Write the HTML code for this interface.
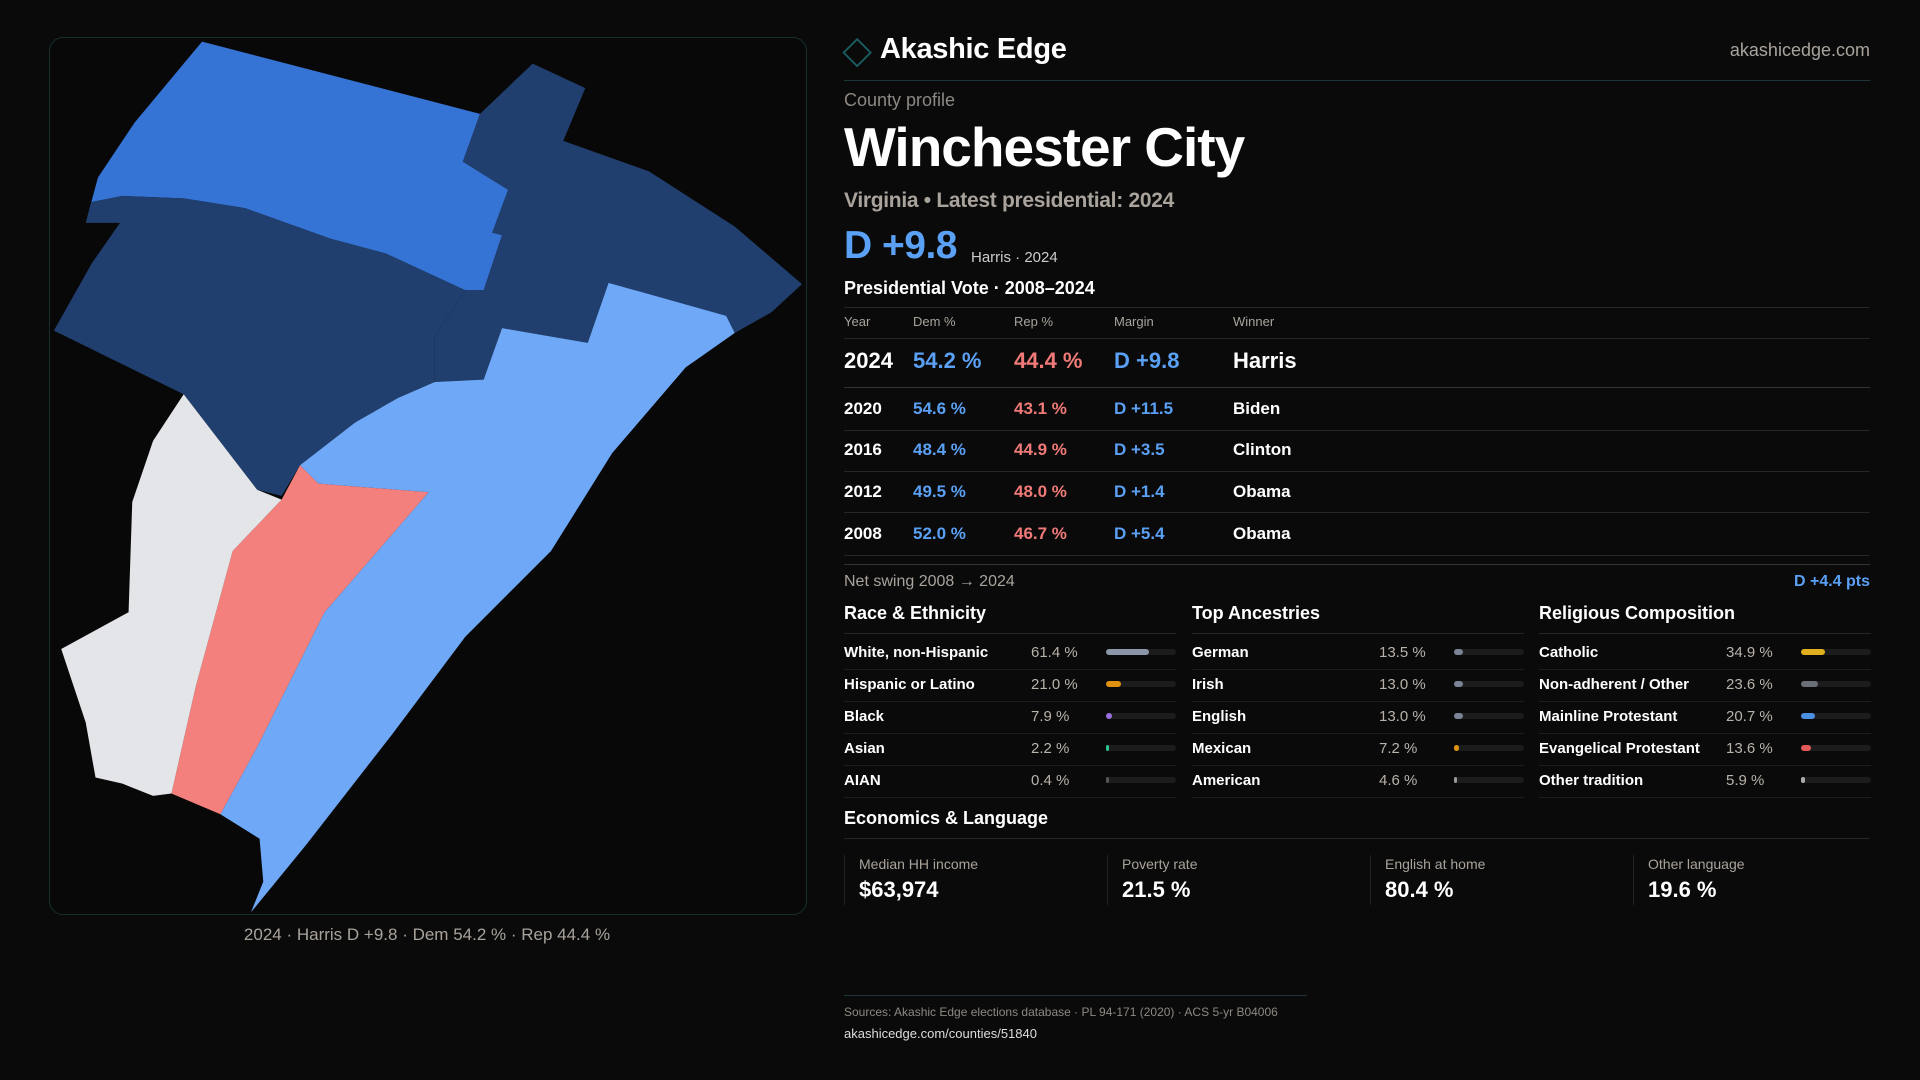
<!DOCTYPE html>
<html><head><meta charset="utf-8"><style>
*{margin:0;padding:0;box-sizing:border-box}
body{width:1920px;height:1080px;background:#0a0a0a;font-family:"Liberation Sans",sans-serif;color:#fff;position:relative;overflow:hidden}
.a{position:absolute;white-space:nowrap;line-height:1}
.g{color:#a9a39c}
.b{color:#5aa0f5}.r{color:#f07a78}
.hl{position:absolute;height:1px;background:#262626}
.bar{position:absolute;height:6px;border-radius:3px;background:#1c1c1c;width:70px}
.bar i{position:absolute;left:0;top:0;height:6px;border-radius:3px}
</style></head><body>
<div style="position:absolute;left:49px;top:37px;width:758px;height:878px;border:1px solid #16302f;border-radius:14px;background:#080808"></div>
<svg style="position:absolute;left:0;top:0" width="1920" height="1080" viewBox="0 0 1568 882">
<polygon fill="#3574d4" points="165,34 392,93 378,132 415,155 402,190 410,192 395,237 380,237 315,207 270,195 200,170 150,162 100,160 75,165 70,182 80,145 110,100"/>
<polygon fill="#203f6e" points="44,270 75,215 98,182 70,182 75,165 100,160 150,162 200,170 270,195 315,207 380,237 355,275 355,312 325,325 290,345 245,380 230,405 210,400 150,322"/>
<polygon fill="#203f6e" points="392,93 435,52 478,72 460,115 530,140 600,185 655,232 630,255 600,272 593,260 497,231 480,280 410,268 395,310 355,312 355,275 380,237 395,237 410,192 402,190 415,155 378,132"/>
<polygon fill="#6ea8f7" points="245,380 290,345 325,325 355,312 395,310 410,268 480,280 497,231 593,258 600,272 560,300 500,370 450,450 380,520 320,600 250,690 205,745 215,720 212,685 180,665 210,610 265,500 350,402 260,395"/>
<polygon fill="#f4807e" points="245,380 260,395 350,402 265,500 210,610 180,665 140,648 160,560 190,450 230,408"/>
<polygon fill="#e4e5e8" points="150,322 210,400 230,408 190,450 160,560 140,648 125,650 100,640 78,635 70,590 50,530 105,500 108,410 125,360"/>
<polygon fill="none" stroke="#1b5e63" stroke-width="1.5" points="700,32 711,43 700,54 689,43"/>
</svg>
<div class="a g" style="left:427px;top:926px;font-size:17px;transform:translateX(-50%)">2024 · Harris D +9.8 · Dem 54.2 % · Rep 44.4 %</div>

<div class="a" style="left:880px;top:35px;font-size:29px;font-weight:bold;letter-spacing:-0.3px">Akashic Edge</div>
<div class="a g" style="right:50px;top:41px;font-size:18px">akashicedge.com</div>
<div class="hl" style="left:844px;width:1026px;top:80px;background:#1d3637"></div>
<div class="a g" style="left:844px;top:91px;font-size:18px;color:#8d8882">County profile</div>
<div class="a" style="left:844px;top:120px;font-size:55px;font-weight:bold;letter-spacing:-1px">Winchester City</div>
<div class="a g" style="left:844px;top:190px;font-size:21px;font-weight:bold;letter-spacing:-0.3px">Virginia • Latest presidential: 2024</div>
<div class="a b" style="left:844px;top:226px;font-size:39px;font-weight:bold;letter-spacing:-0.5px">D +9.8</div>
<div class="a" style="left:971px;top:250px;font-size:15px;color:#ccc">Harris · 2024</div>
<div class="a" style="left:844px;top:279px;font-size:18px;font-weight:bold">Presidential Vote · 2008–2024</div>
<div class="hl" style="left:844px;width:1026px;top:307px"></div>
<div class="a g" style="left:844px;top:315px;font-size:13px">Year</div>
<div class="a g" style="left:913px;top:315px;font-size:13px">Dem %</div>
<div class="a g" style="left:1014px;top:315px;font-size:13px">Rep %</div>
<div class="a g" style="left:1114px;top:315px;font-size:13px">Margin</div>
<div class="a g" style="left:1233px;top:315px;font-size:13px">Winner</div>
<div class="hl" style="left:844px;width:1026px;top:338px"></div>
<div class="a" style="left:844px;top:350px;font-size:22px;font-weight:bold">2024</div>
<div class="a b" style="left:913px;top:350px;font-size:22px;font-weight:bold">54.2 %</div>
<div class="a r" style="left:1014px;top:350px;font-size:22px;font-weight:bold">44.4 %</div>
<div class="a b" style="left:1114px;top:350px;font-size:22px;font-weight:bold">D +9.8</div>
<div class="a" style="left:1233px;top:350px;font-size:22px;font-weight:bold">Harris</div>
<div class="hl" style="left:844px;width:1026px;top:387px;background:#333"></div>

<div class="a" style="left:844px;top:400px;font-size:17px;font-weight:bold">2020</div><div class="a b" style="left:913px;top:400px;font-size:17px;font-weight:bold">54.6 %</div><div class="a r" style="left:1014px;top:400px;font-size:17px;font-weight:bold">43.1 %</div><div class="a b" style="left:1114px;top:400px;font-size:17px;font-weight:bold">D +11.5</div><div class="a" style="left:1233px;top:400px;font-size:17px;font-weight:bold">Biden</div>
<div class="hl" style="left:844px;width:1026px;top:430px"></div>
<div class="a" style="left:844px;top:441px;font-size:17px;font-weight:bold">2016</div><div class="a b" style="left:913px;top:441px;font-size:17px;font-weight:bold">48.4 %</div><div class="a r" style="left:1014px;top:441px;font-size:17px;font-weight:bold">44.9 %</div><div class="a b" style="left:1114px;top:441px;font-size:17px;font-weight:bold">D +3.5</div><div class="a" style="left:1233px;top:441px;font-size:17px;font-weight:bold">Clinton</div>
<div class="hl" style="left:844px;width:1026px;top:471px"></div>
<div class="a" style="left:844px;top:483px;font-size:17px;font-weight:bold">2012</div><div class="a b" style="left:913px;top:483px;font-size:17px;font-weight:bold">49.5 %</div><div class="a r" style="left:1014px;top:483px;font-size:17px;font-weight:bold">48.0 %</div><div class="a b" style="left:1114px;top:483px;font-size:17px;font-weight:bold">D +1.4</div><div class="a" style="left:1233px;top:483px;font-size:17px;font-weight:bold">Obama</div>
<div class="hl" style="left:844px;width:1026px;top:512px"></div>
<div class="a" style="left:844px;top:525px;font-size:17px;font-weight:bold">2008</div><div class="a b" style="left:913px;top:525px;font-size:17px;font-weight:bold">52.0 %</div><div class="a r" style="left:1014px;top:525px;font-size:17px;font-weight:bold">46.7 %</div><div class="a b" style="left:1114px;top:525px;font-size:17px;font-weight:bold">D +5.4</div><div class="a" style="left:1233px;top:525px;font-size:17px;font-weight:bold">Obama</div>
<div class="hl" style="left:844px;width:1026px;top:555px"></div>
<div class="hl" style="left:844px;width:1026px;top:564px;background:#333"></div>
<div class="a g" style="left:844px;top:574px;font-size:16px">Net swing 2008 → 2024</div>
<div class="a b" style="right:50px;top:574px;font-size:16px;font-weight:bold">D +4.4 pts</div>

<div id="cols"></div>
<script>
var cols=[
 {x:844,t:"Race &amp; Ethnicity",rows:[["White, non-Hispanic","61.4 %",61.4,"#8b96a8"],["Hispanic or Latino","21.0 %",21,"#e0920f"],["Black","7.9 %",7.9,"#9a6ee0"],["Asian","2.2 %",2.2,"#2fbf8a"],["AIAN","0.4 %",0.4,"#555"]]},
 {x:1192,t:"Top Ancestries",rows:[["German","13.5 %",13.5,"#7a8494"],["Irish","13.0 %",13,"#7a8494"],["English","13.0 %",13,"#7a8494"],["Mexican","7.2 %",7.2,"#e0920f"],["American","4.6 %",4.6,"#999"]]},
 {x:1539,t:"Religious Composition",rows:[["Catholic","34.9 %",34.9,"#e0b020"],["Non-adherent / Other","23.6 %",23.6,"#6a6f78"],["Mainline Protestant","20.7 %",20.7,"#4a8fe0"],["Evangelical Protestant","13.6 %",13.6,"#e05a5a"],["Other tradition","5.9 %",5.9,"#aaa"]]}];
var h="";
cols.forEach(function(c){
 h+='<div class="a" style="left:'+c.x+'px;top:604px;font-size:18px;font-weight:bold">'+c.t+'</div>';
 h+='<div class="hl" style="left:'+c.x+'px;width:332px;top:633px"></div>';
 c.rows.forEach(function(r,i){var y=645+i*32;
  h+='<div class="a" style="left:'+c.x+'px;top:'+y+'px;font-size:15px;font-weight:bold">'+r[0]+'</div>';
  h+='<div class="a" style="left:'+(c.x+187)+'px;top:'+y+'px;font-size:15px;color:#b8b2aa">'+r[1]+'</div>';
  var w=Math.max(3,r[2]/100*70);
  h+='<div class="bar" style="left:'+(c.x+262)+'px;top:'+(y+4)+'px"><i style="width:'+w+'px;background:'+r[3]+'"></i></div>';
  h+='<div class="hl" style="left:'+c.x+'px;width:332px;top:'+(y+24)+'px;background:#1e1e1e"></div>';
 });
});
document.getElementById('cols').innerHTML=h;
</script>
<div class="a" style="left:844px;top:809px;font-size:18px;font-weight:bold">Economics &amp; Language</div>
<div class="hl" style="left:844px;width:1026px;top:838px"></div>
<div style="position:absolute;left:844px;top:855px;width:1px;height:50px;background:#222"></div>
<div style="position:absolute;left:1107px;top:855px;width:1px;height:50px;background:#222"></div>
<div style="position:absolute;left:1370px;top:855px;width:1px;height:50px;background:#222"></div>
<div style="position:absolute;left:1633px;top:855px;width:1px;height:50px;background:#222"></div>
<div class="a g" style="left:859px;top:857px;font-size:14px">Median HH income</div><div class="a" style="left:859px;top:879px;font-size:22px;font-weight:bold">$63,974</div>
<div class="a g" style="left:1122px;top:857px;font-size:14px">Poverty rate</div><div class="a" style="left:1122px;top:879px;font-size:22px;font-weight:bold">21.5 %</div>
<div class="a g" style="left:1385px;top:857px;font-size:14px">English at home</div><div class="a" style="left:1385px;top:879px;font-size:22px;font-weight:bold">80.4 %</div>
<div class="a g" style="left:1648px;top:857px;font-size:14px">Other language</div><div class="a" style="left:1648px;top:879px;font-size:22px;font-weight:bold">19.6 %</div>
<div class="hl" style="left:844px;width:463px;top:995px;background:#1d3637"></div>
<div class="a g" style="left:844px;top:1006px;font-size:12px;color:#8d8882">Sources: Akashic Edge elections database · PL 94-171 (2020) · ACS 5-yr B04006</div>
<div class="a" style="left:844px;top:1027px;font-size:13px;color:#ddd">akashicedge.com/counties/51840</div>
</body></html>
